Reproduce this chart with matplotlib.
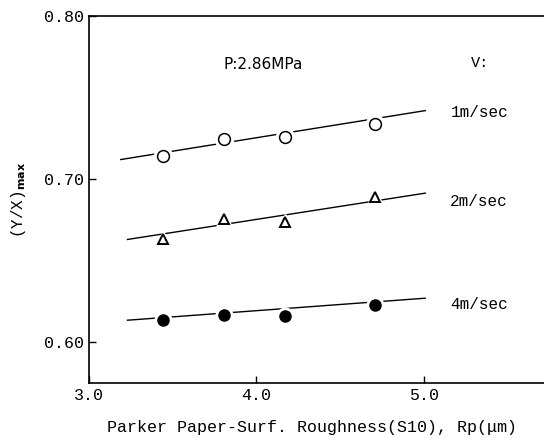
import matplotlib
matplotlib.use("Agg")
import matplotlib.pyplot as plt

# Rp (um) for the four paper samples
rp = [3.44, 3.81, 4.17, 4.71]
yx_1 = [0.714, 0.7245, 0.726, 0.734]
yx_2 = [0.663, 0.6755, 0.674, 0.689]
yx_4 = [0.6135, 0.6166, 0.616, 0.6227]

# fitted lines (end points)
fit1_x = [3.19, 5.01]
fit1_y = [0.712, 0.742]
fit2_x = [3.23, 5.01]
fit2_y = [0.663, 0.6914]
fit4_x = [3.23, 5.01]
fit4_y = [0.6135, 0.627]

speed_labels = ["1m/sec", "2m/sec", "4m/sec"]

mono = "Liberation Mono"

fig = plt.figure(figsize=(5.44, 4.43), dpi=100)
ax = fig.add_axes([0.1636, 0.1354, 0.8364, 0.8285])

for fx, fy in [(fit1_x, fit1_y), (fit2_x, fit2_y), (fit4_x, fit4_y)]:
    ax.plot(fx, fy, color="black", lw=1.0, zorder=1)

# white halo under markers gives the gaps in the lines
halo = dict(linestyle="none", color="white", zorder=2)
ax.plot(rp, yx_1, marker="o", markersize=13, **halo)
ax.plot(rp, yx_2, marker="^", markersize=12, **halo)
ax.plot(rp, yx_4, marker="o", markersize=12, **halo)

ax.plot(rp, yx_1, linestyle="none", marker="o", markersize=8.5,
        markerfacecolor="white", markeredgecolor="black", mew=1.1, zorder=3)
ax.plot(rp, yx_2, linestyle="none", marker="^", markersize=7,
        markerfacecolor="white", markeredgecolor="black", mew=1.4, zorder=3)
ax.plot(rp, yx_4, linestyle="none", marker="o", markersize=8,
        markerfacecolor="black", markeredgecolor="black", zorder=3)

ax.set_xlim(3.0, 5.72)
ax.set_ylim(0.575, 0.80)
ax.set_xticks([3.0, 4.0, 5.0])
ax.set_xticklabels(["3.0", "4.0", "5.0"], fontfamily=mono, fontsize=12)
ax.set_yticks([0.60, 0.70, 0.80])
ax.set_yticklabels(["0.60", "0.70", "0.80"], fontfamily=mono, fontsize=12)
ax.tick_params(direction="in", length=5, width=1)
ax.spines["right"].set_visible(False)
for s in ["left", "top", "bottom"]:
    ax.spines[s].set_linewidth(1.2)

ax.text(4.04, 0.770, "P:2.86MPa", fontsize=11, ha="center", va="center")
ax.text(5.34, 0.771, "V:", fontfamily=mono, fontsize=11, ha="center", va="center")
for lab, y in zip(speed_labels, [0.741, 0.686, 0.623]):
    ax.text(5.16, y, lab, fontfamily=mono, fontsize=11.5, ha="left", va="center")

ax.set_xlabel("Parker Paper-Surf. Roughness(S10), Rp(\u03bcm)",
              fontfamily=mono, fontsize=12)
ax.xaxis.set_label_coords(0.49, -0.10)
ax.set_ylabel(r"(Y/X)$_{\mathbf{max}}$", fontfamily=mono, fontsize=11.5)
ax.yaxis.set_label_coords(-0.135, 0.50)

fig.savefig("out.png", dpi=100)
